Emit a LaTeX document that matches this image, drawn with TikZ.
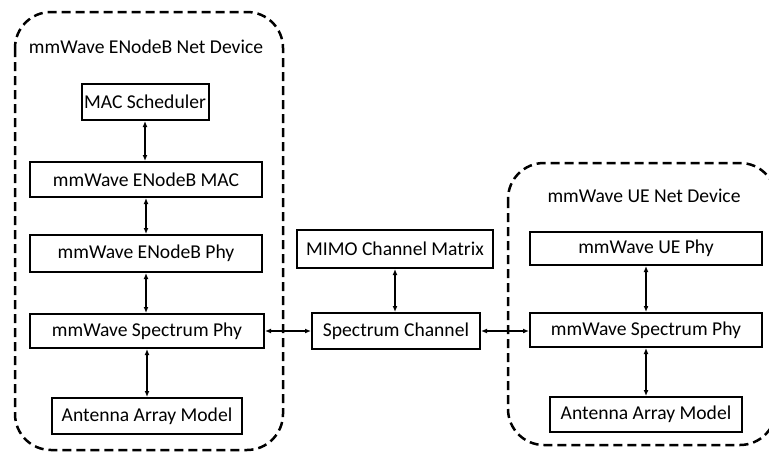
\documentclass[tikz,border=0pt]{standalone}
\usepackage{fontspec}
\setmainfont{Carlito}
\usetikzlibrary{arrows.meta}
\begin{document}
\begin{tikzpicture}[x=1pt,y=-1pt,
  blk/.style={draw, line width=2pt, inner sep=0pt, font=\fontsize{19.6}{22}\selectfont},
  arr/.style={line width=1.4pt, {Latex[length=6pt,width=5pt]}-{Latex[length=6pt,width=5pt]}},
  grp/.style={draw, dashed, line width=2.5pt, dash pattern=on 9pt off 5pt, rounded corners=36pt},
  ttl/.style={font=\fontsize{19.6}{22}\selectfont, inner sep=0pt}]
\useasboundingbox (0,0) rectangle (769,461);
\draw[grp] (15,12) rectangle (283,450);
\draw[grp] (508,163) rectangle (776,445);
\node[ttl] (etitle) at (146,47) {mmWave ENodeB Net Device};
\node[ttl] (utitle) at (644,196) {mmWave UE Net Device};
\node[blk, minimum width=127pt, minimum height=36pt] (sched) at (145,102) {MAC Scheduler};
\node[blk, minimum width=232pt, minimum height=35pt] (emac) at (146,179.5) {mmWave ENodeB MAC};
\node[blk, minimum width=232pt, minimum height=37pt] (ephy) at (146,253.5) {mmWave ENodeB Phy};
\node[blk, minimum width=234pt, minimum height=34pt] (espec) at (147,331) {mmWave Spectrum Phy};
\node[blk, minimum width=190pt, minimum height=36pt] (eant) at (147,416) {Antenna Array Model};
\node[blk, minimum width=196pt, minimum height=38pt] (mimo) at (395,249) {MIMO Channel Matrix};
\node[blk, minimum width=168pt, minimum height=36pt] (chan) at (396,331) {Spectrum Channel};
\node[blk, minimum width=232pt, minimum height=33pt] (uphy) at (646,248.5) {mmWave UE Phy};
\node[blk, minimum width=232pt, minimum height=34pt] (uspec) at (646,330) {mmWave Spectrum Phy};
\node[blk, minimum width=192pt, minimum height=35pt] (uant) at (646,414.5) {Antenna Array Model};
\draw[arr] (sched.south) -- (sched.south |- emac.north);
\draw[arr] (emac.south) -- (ephy.north);
\draw[arr] (ephy.south) -- (ephy.south |- espec.north);
\draw[arr] (espec.south) -- (eant.north);
\draw[arr] (mimo.south) -- (mimo.south |- chan.north);
\draw[arr] (uphy.south) -- (uspec.north);
\draw[arr] (uspec.south) -- (uant.north);
\draw[arr] (espec.east) -- (espec.east -| chan.west);
\draw[arr] (chan.east) -- (chan.east -| uspec.west);
\end{tikzpicture}
\end{document}
